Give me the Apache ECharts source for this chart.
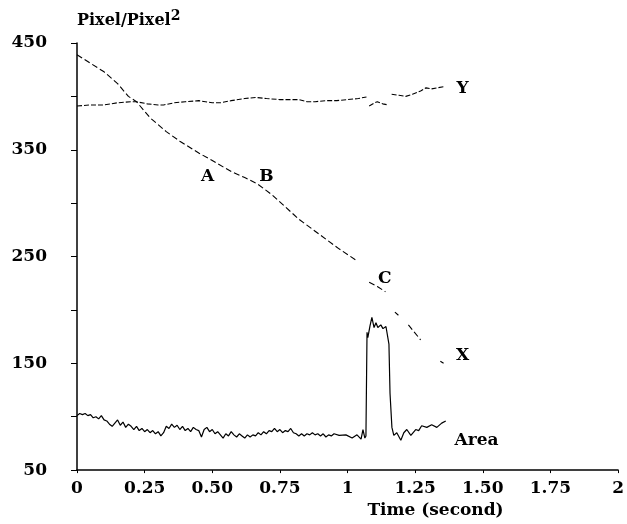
<!DOCTYPE html>
<html>
<head>
<meta charset="utf-8">
<script src="https://cdn.jsdelivr.net/npm/echarts@6/dist/echarts.min.js"></script>
<style>
  html, body { margin: 0; padding: 0; background: #fff; }
  #chart { width: 627px; height: 524px; }
</style>
</head>
<body>
<div id="chart"></div>
<script>
// Tracked position (pixels) and blob area (pixel^2) against time in seconds.
// null entries mark places where the tracker lost the object.
const xTrack = [
  [0, 439], [0.05, 431], [0.10, 423], [0.15, 412], [0.19, 400], [0.22, 395],
  [0.27, 380], [0.33, 367], [0.38, 358], [0.45, 347], [0.50, 340], [0.54, 334],
  [0.575, 329], [0.62, 324], [0.667, 318], [0.72, 308], [0.82, 285], [0.90, 270],
  [0.97, 257], [1.035, 246], null,
  [1.08, 226], [1.11, 222], [1.14, 217], null,
  [1.175, 198], [1.188, 195], null,
  [1.225, 186], [1.27, 172], null,
  [1.343, 152], [1.355, 150]
];

const yTrack = [
  [0, 391], [0.05, 392], [0.10, 392], [0.15, 394], [0.20, 395], [0.22, 395],
  [0.26, 393], [0.30, 392], [0.32, 392], [0.36, 394], [0.40, 395], [0.45, 396],
  [0.50, 394], [0.53, 394], [0.57, 396], [0.62, 398], [0.66, 399], [0.70, 398],
  [0.75, 397], [0.80, 397], [0.82, 397], [0.85, 395], [0.88, 395], [0.92, 396],
  [0.96, 396], [1.00, 397], [1.04, 398], [1.07, 399.5], null,
  [1.08, 391], [1.10, 394], [1.11, 395], [1.13, 393], [1.15, 392], null,
  [1.163, 402], [1.19, 401], [1.215, 400], [1.24, 402], [1.27, 405],
  [1.29, 408], [1.31, 407], [1.33, 408], [1.355, 409]
];

const areaTrack = [
  [0.00, 101], [0.01, 103], [0.02, 102], [0.03, 103], [0.04, 101], [0.05, 102],
  [0.06, 99], [0.07, 100], [0.08, 98], [0.09, 101], [0.10, 97], [0.11, 96],
  [0.12, 93], [0.13, 91], [0.14, 94], [0.15, 97], [0.16, 92], [0.17, 95],
  [0.18, 90], [0.19, 93], [0.20, 91], [0.21, 88], [0.22, 91], [0.23, 87],
  [0.24, 89], [0.25, 86], [0.26, 88], [0.27, 85], [0.28, 87], [0.29, 84],
  [0.30, 86], [0.31, 82], [0.32, 85], [0.33, 91], [0.34, 89], [0.35, 93],
  [0.36, 90], [0.37, 92], [0.38, 88], [0.39, 91], [0.40, 87], [0.41, 89],
  [0.42, 86], [0.43, 90], [0.44, 88], [0.45, 87], [0.46, 81], [0.47, 88],
  [0.48, 90], [0.49, 86], [0.50, 88], [0.51, 84], [0.52, 86], [0.53, 83],
  [0.54, 80], [0.55, 84], [0.56, 82], [0.57, 86], [0.58, 83], [0.59, 81],
  [0.60, 84], [0.61, 82], [0.62, 80], [0.63, 83], [0.64, 81], [0.65, 83],
  [0.66, 82], [0.67, 85], [0.68, 83], [0.69, 86], [0.70, 84], [0.71, 87],
  [0.72, 86], [0.73, 89], [0.74, 86], [0.75, 88], [0.76, 85], [0.77, 87],
  [0.78, 86], [0.79, 89], [0.80, 85], [0.81, 84], [0.82, 82], [0.83, 84],
  [0.84, 82], [0.85, 84], [0.86, 83], [0.87, 85], [0.88, 83], [0.89, 84],
  [0.90, 82], [0.91, 84], [0.92, 81], [0.93, 83], [0.94, 82], [0.95, 84],
  [0.969, 82.5], [0.994, 83], [1.017, 80], [1.035, 83], [1.05, 79], [1.057, 88],
  [1.064, 80], [1.068, 82], [1.072, 179], [1.075, 174], [1.083, 185], [1.09, 193],
  [1.098, 183.5], [1.105, 188], [1.112, 183.5], [1.123, 186], [1.131, 182.5],
  [1.142, 184.5], [1.149, 186], [1.153, 168], [1.157, 122], [1.164, 90],
  [1.171, 82.5], [1.182, 85], [1.197, 78], [1.208, 85], [1.219, 88], [1.234, 82.5],
  [1.252, 88], [1.263, 87], [1.274, 91.5], [1.293, 90], [1.311, 92.5], [1.33, 90],
  [1.348, 94], [1.363, 96]
];

// Text notes placed in data coordinates: [time, value, text]
const notes = [
  [0.483, 325, 'A'], [0.70, 325, 'B'], [1.138, 229, 'C'],
  [1.425, 157, 'X'], [1.425, 407, 'Y'], [1.477, 78, 'Area']
];

const xTickLabels = ['0', '0.25', '0.50', '0.75', '1', '1.25', '1.50', '1.75', '2'];
const yLabelledTicks = [50, 150, 250, 350, 450];

const FONT = 'DejaVu Serif';
const INK = '#000';

const chart = echarts.init(document.getElementById('chart'), null, { renderer: 'canvas' });

chart.setOption({
  animation: false,
  backgroundColor: '#fff',
  grid: { left: 77, right: 6, top: 43, bottom: 46, containLabel: false },
  xAxis: {
    type: 'value',
    min: 0, max: 2, interval: 0.25,
    name: 'Time (second)',
    nameLocation: 'middle',
    nameGap: 25,
    nameTextStyle: {
      fontFamily: FONT, fontWeight: 'bold', fontSize: 17, color: INK,
      padding: [0, 0, 0, 176]
    },
    axisLine: { show: true, onZero: false, lineStyle: { color: INK, width: 1.5 } },
    axisTick: { show: true, inside: false, length: 3, lineStyle: { color: INK, width: 1 } },
    axisLabel: {
      margin: 10,
      fontFamily: FONT, fontWeight: 'bold', fontSize: 17, color: INK,
      formatter: v => xTickLabels[Math.round(v / 0.25)]
    },
    splitLine: { show: false }
  },
  yAxis: {
    type: 'value',
    min: 50, max: 450, interval: 50,
    name: '{b|Pixel/Pixel}{s|2}',
    nameLocation: 'end',
    nameGap: 11,
    nameTextStyle: {
      align: 'left',
      rich: {
        b: { fontFamily: FONT, fontWeight: 'bold', fontSize: 16, color: INK },
        s: { fontFamily: FONT, fontWeight: 'bold', fontSize: 14, color: INK, padding: [0, 0, 9, 0] }
      }
    },
    axisLine: { show: true, lineStyle: { color: INK, width: 1.5 } },
    axisTick: { show: true, length: 6, lineStyle: { color: INK, width: 1 } },
    axisLabel: {
      margin: 30,
      fontFamily: FONT, fontWeight: 'bold', fontSize: 17, color: INK,
      verticalAlign: 'middle',
      padding: [0, 0, 12, 0],
      formatter: v => (yLabelledTicks.indexOf(v) >= 0 ? String(v) : '')
    },
    splitLine: { show: false }
  },
  series: [
    {
      name: 'X', type: 'line', data: xTrack, showSymbol: false, connectNulls: false,
      lineStyle: { color: INK, width: 1.1, type: [6, 3] }
    },
    {
      name: 'Y', type: 'line', data: yTrack, showSymbol: false, connectNulls: false,
      lineStyle: { color: INK, width: 1.1, type: [5, 2] }
    },
    {
      name: 'Area', type: 'line', data: areaTrack, showSymbol: false,
      lineStyle: { color: INK, width: 1.2 }
    },
    {
      name: 'notes', type: 'scatter', data: notes, symbolSize: 0, silent: true,
      itemStyle: { opacity: 1 },
      label: {
        show: true, position: 'inside', opacity: 1,
        fontFamily: FONT, fontWeight: 'bold', fontSize: 17, color: INK,
        formatter: p => p.data[2]
      }
    }
  ]
});
</script>
</body>
</html>
